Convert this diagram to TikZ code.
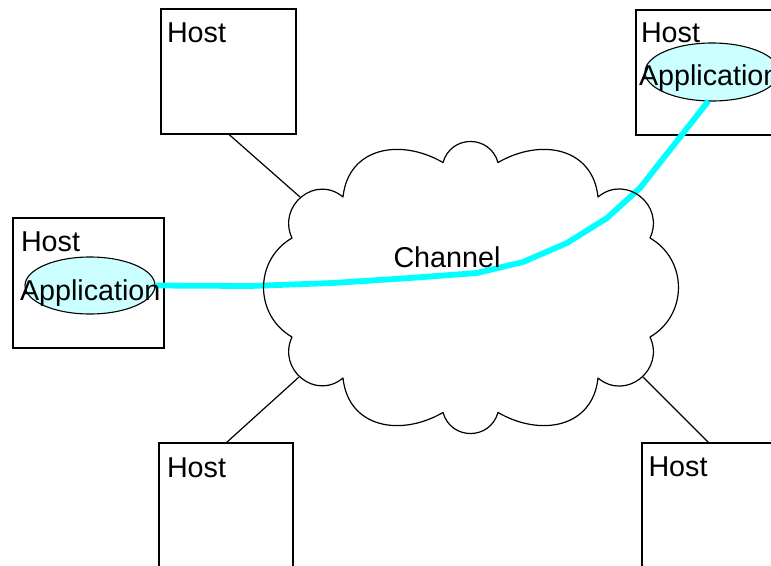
\documentclass[tikz,border=0pt]{standalone}
\usepackage{fontspec}
\setmainfont{Liberation Sans}
\usetikzlibrary{shapes.geometric}
\definecolor{appfill}{RGB}{204,255,255}
\definecolor{chancol}{RGB}{0,255,255}
\begin{document}
\begin{tikzpicture}[x=1pt,y=1pt,
  hostbox/.style={draw=black, line width=1.2pt, rectangle, inner sep=0pt, outer sep=0pt},
  appell/.style={ellipse, draw=black, fill=appfill, line width=1.1pt, inner sep=0pt, outer sep=0pt},
  lbl/.style={anchor=base west, inner sep=0pt, outer sep=0pt, font=\fontsize{28.7}{34}\selectfont},
  link/.style={draw=black, line width=1.2pt},
  cloudline/.style={draw=black, line width=1.2pt, line join=round},
  chanline/.style={draw=chancol, line width=5.8pt, line join=round, line cap=butt}]
\path[use as bounding box] (0,0) rectangle (771,-565);
\clip (0,0) rectangle (771,-565);
\fill[white] (0,0) rectangle (771,-565);
% host boxes
\node[hostbox, minimum width=135pt, minimum height=125pt] (h1) at (228.5,-71.5) {};
\node[hostbox, minimum width=151pt, minimum height=130pt] (h2) at (88.5,-283) {};
\node[hostbox, minimum width=140pt, minimum height=125pt] (h3) at (706,-72.5) {};
\node[hostbox, minimum width=134pt, minimum height=132pt] (h4) at (226,-509) {};
\node[hostbox, minimum width=134pt, minimum height=132pt] (h5) at (709,-509) {};
% cloud junctions
\coordinate (J1) at (292,-238);
\coordinate (J2) at (343,-197);
\coordinate (J3) at (443,-162.5);
\coordinate (J4) at (498,-162.5);
\coordinate (J5) at (598,-197);
\coordinate (J6) at (650,-238);
\coordinate (J7) at (650,-337);
\coordinate (J8) at (598,-378);
\coordinate (J9) at (498,-412.5);
\coordinate (J10) at (443,-412.5);
\coordinate (J11) at (343,-378);
\coordinate (J12) at (292,-337);
% connector ends on the cloud
\coordinate (c1) at (300,-197);
\coordinate (c4) at (299,-377);
\coordinate (c5) at (643,-377);
% application ellipses
\node[appell, minimum width=130pt, minimum height=57pt] (a1) at (90,-285.5) {};
\node[appell, minimum width=134pt, minimum height=58pt] (a2) at (712,-72) {};
% channel path
\draw[chanline] (a1.east) -- (250,-286) -- (333,-283) -- (410,-278) -- (477,-273)
  -- (523,-262) -- (567,-243) -- (607,-218) -- (640,-188) -- (a2.-97);
% cloud
\draw[cloudline] (J1) to[out=115,in=140,looseness=1.4] (J2)
  to[out=84,in=150,looseness=1.2] (J3)
  to[out=74,in=106,looseness=1.36] (J4)
  to[out=30,in=96,looseness=1.2] (J5)
  to[out=40,in=65,looseness=1.4] (J6)
  to[out=-30,in=30,looseness=1.135] (J7)
  to[out=-65,in=-40,looseness=1.4] (J8)
  to[out=-96,in=-30,looseness=1.2] (J9)
  to[out=-106,in=-74,looseness=1.36] (J10)
  to[out=-150,in=-84,looseness=1.2] (J11)
  to[out=-140,in=-115,looseness=1.4] (J12)
  to[out=150,in=210,looseness=1.135] (J1);
% connectors
\draw[link] (h1.south) -- (c1);
\draw[link] (h4.north) -- (c4);
\draw[link] (h5.north) -- (c5);
% labels
\node[lbl] (t1) at (167,-42) {Host};
\node[lbl] (t2) at (21,-251) {Host};
\node[lbl] (t3) at (641,-42) {Host};
\node[lbl] (t4) at (167,-477) {Host};
\node[lbl] (t5) at (648.5,-476) {Host};
\node[lbl] (ch) at (393.5,-267) {Channel};
\node[lbl] (at1) at (20,-300) {Application};
\node[lbl] (at2) at (639,-85) {Application};
\end{tikzpicture}
\end{document}
